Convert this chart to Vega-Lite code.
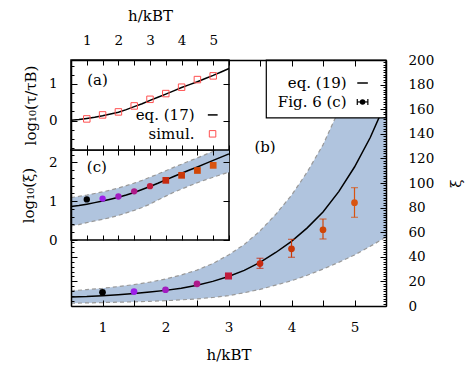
{
  "$schema": "https://vega.github.io/schema/vega-lite/v6.json",
  "width": 315,
  "height": 246,
  "autosize": {"type": "none"},
  "padding": {"left": 71, "top": 60, "right": 83, "bottom": 61},
  "config": {
    "view": {"stroke": null},
    "axis": {"labelFont": "DejaVu Serif", "labelFontSize": 13.5, "titleFont": "DejaVu Serif", "titleFontSize": 15, "titleFontWeight": "normal", "labelColor": "black", "titleColor": "black", "tickColor": "black", "domainColor": "black", "grid": false, "tickWidth": 1, "labelFlush": false, "labelOverlap": false},
    "text": {"font": "DejaVu Serif", "fontSize": 15, "color": "black"}
  },
  "datasets": {
    "curve": [
      {"h": 0.5, "xi": 7.3, "lo": 2.3, "hi": 12.4},
      {"h": 0.75, "xi": 7.7, "lo": 2.5, "hi": 13.3},
      {"h": 1.0, "xi": 8.4, "lo": 2.8, "hi": 14.4},
      {"h": 1.25, "xi": 9.2, "lo": 3.1, "hi": 15.8},
      {"h": 1.5, "xi": 10.1, "lo": 3.4, "hi": 17.4},
      {"h": 1.75, "xi": 11.3, "lo": 3.8, "hi": 19.4},
      {"h": 2.0, "xi": 12.7, "lo": 4.3, "hi": 21.9},
      {"h": 2.25, "xi": 14.5, "lo": 5.0, "hi": 25.2},
      {"h": 2.5, "xi": 16.8, "lo": 5.8, "hi": 29.2},
      {"h": 2.75, "xi": 20.0, "lo": 6.9, "hi": 34.5},
      {"h": 3.0, "xi": 24.0, "lo": 8.4, "hi": 41.5},
      {"h": 3.25, "xi": 29.0, "lo": 10.8, "hi": 50},
      {"h": 3.5, "xi": 35.5, "lo": 13.5, "hi": 61},
      {"h": 3.75, "xi": 43.5, "lo": 17, "hi": 74.5},
      {"h": 4.0, "xi": 52.5, "lo": 20.5, "hi": 90},
      {"h": 4.25, "xi": 63.5, "lo": 25, "hi": 109},
      {"h": 4.5, "xi": 76.5, "lo": 30, "hi": 131},
      {"h": 4.75, "xi": 93, "lo": 35.5, "hi": 159},
      {"h": 5.0, "xi": 113, "lo": 41.5, "hi": 193},
      {"h": 5.25, "xi": 137, "lo": 48.5, "hi": 235},
      {"h": 5.5, "xi": 166, "lo": 56, "hi": 285}
    ],
    "tau": [
      {"h": 0.5, "v": 0.01}, {"h": 0.75, "v": 0.03}, {"h": 1.0, "v": 0.06}, {"h": 1.25, "v": 0.09},
      {"h": 1.5, "v": 0.13}, {"h": 1.75, "v": 0.18}, {"h": 2.0, "v": 0.23}, {"h": 2.25, "v": 0.3},
      {"h": 2.5, "v": 0.38}, {"h": 2.75, "v": 0.46}, {"h": 3.0, "v": 0.55}, {"h": 3.25, "v": 0.635},
      {"h": 3.5, "v": 0.72}, {"h": 3.75, "v": 0.81}, {"h": 4.0, "v": 0.9}, {"h": 4.25, "v": 0.98},
      {"h": 4.5, "v": 1.06}, {"h": 4.75, "v": 1.145}, {"h": 5.0, "v": 1.23}, {"h": 5.25, "v": 1.325},
      {"h": 5.5, "v": 1.42}
    ],
    "simul": [
      {"h": 1, "v": 0.046}, {"h": 1.5, "v": 0.155}, {"h": 2, "v": 0.237}, {"h": 2.5, "v": 0.4},
      {"h": 3, "v": 0.58}, {"h": 3.5, "v": 0.736}, {"h": 4, "v": 0.91}, {"h": 4.5, "v": 1.117},
      {"h": 5, "v": 1.218}
    ],
    "pts": [
      {"h": 1, "xi": 11.1},
      {"h": 1.5, "xi": 11.7},
      {"h": 2, "xi": 13.2},
      {"h": 2.5, "xi": 18.0},
      {"h": 3, "xi": 24.4},
      {"h": 3.5, "xi": 34.5, "lo": 30.6, "hi": 38.8},
      {"h": 4, "xi": 46.5, "lo": 39.6, "hi": 54.2},
      {"h": 4.5, "xi": 62, "lo": 54.5, "hi": 70.7},
      {"h": 5, "xi": 84, "lo": 72.1, "hi": 96.2}
    ]
  },
  "resolve": {"scale": {"x": "independent", "y": "independent"}},
  "layer": [
    {
      "data": {"name": "curve"},
      "mark": {"type": "area", "color": "#b0c4de", "opacity": 1, "clip": true},
      "encoding": {
        "x": {"field": "h", "type": "quantitative", "scale": {"domain": [0.5, 5.5], "nice": false, "zero": false},
          "axis": {"orient": "bottom", "values": [0.5, 1, 1.5, 2, 2.5, 3, 3.5, 4, 4.5, 5, 5.5], "labelExpr": "datum.value % 1 == 0 ? format(datum.value, 'd') : ''", "tickSize": -6, "labelPadding": 20, "title": "h/kBT", "titlePadding": 14, "domainWidth": 1.5, "zindex": 1}},
        "y": {"field": "lo", "type": "quantitative", "scale": {"domain": [0, 200], "nice": false, "zero": false},
          "axis": {"orient": "right", "values": [0, 20, 40, 60, 80, 100, 120, 140, 160, 180, 200], "tickSize": -6, "labelPadding": 28, "title": "ξ", "titleAngle": 270, "titlePadding": 30, "domainWidth": 1.5, "zindex": 1}},
        "y2": {"field": "hi"}
      }
    },
    {
      "data": {"name": "curve"},
      "mark": {"type": "line", "color": "#999999", "strokeDash": [4, 3], "strokeWidth": 1.2, "clip": true},
      "encoding": {
        "x": {"field": "h", "type": "quantitative", "scale": {"domain": [0.5, 5.5], "nice": false, "zero": false},
          "axis": {"orient": "top", "values": [3.5, 4, 4.5, 5, 5.5], "labels": false, "tickSize": -6, "title": null, "domainWidth": 1.5, "zindex": 1}},
        "y": {"field": "hi", "type": "quantitative", "scale": {"domain": [0, 200], "nice": false, "zero": false},
          "axis": {"orient": "left", "values": [4, 8, 12, 16, 24, 28, 32, 36, 44, 48, 52], "labels": false, "tickSize": -3, "title": null, "domainWidth": 1.5, "zindex": 1}}
      }
    },
    {
      "data": {"name": "curve"},
      "mark": {"type": "line", "color": "#999999", "strokeDash": [4, 3], "strokeWidth": 1.2, "clip": true},
      "encoding": {
        "x": {"field": "h", "type": "quantitative", "scale": {"domain": [0.5, 5.5], "nice": false, "zero": false}, "axis": null},
        "y": {"field": "lo", "type": "quantitative", "scale": {"domain": [0, 200], "nice": false, "zero": false},
          "axis": {"orient": "left", "values": [0, 20, 40], "labels": false, "tickSize": -6, "domain": false, "title": null, "zindex": 1}}
      }
    },
    {
      "data": {"name": "curve"},
      "mark": {"type": "line", "color": "black", "strokeWidth": 1.5, "clip": true},
      "encoding": {
        "x": {"field": "h", "type": "quantitative", "scale": {"domain": [0.5, 5.5], "nice": false, "zero": false}, "axis": null},
        "y": {"field": "xi", "type": "quantitative", "scale": {"domain": [0, 200], "nice": false, "zero": false},
          "axis": {"orient": "right", "values": [2,4,6,8,10,12,14,16,18,22,24,26,28,30,32,34,36,38,42,44,46,48,50,52,54,56,58,62,64,66,68,70,72,74,76,78,82,84,86,88,90,92,94,96,98,102,104,106,108,110,112,114,116,118,122,124,126,128,130,132,134,136,138,142,144,146,148,150,152,154,156,158,162,164,166,168,170,172,174,176,178,182,184,186,188,190,192,194,196,198], "labels": false, "tickSize": -3, "domain": false, "title": null, "zindex": 1}}
      }
    },
    {
      "data": {"name": "pts"},
      "transform": [{"filter": "datum.h >= 3.5"}],
      "mark": {"type": "errorbar", "ticks": {"size": 7}, "thickness": 1.2},
      "encoding": {
        "x": {"field": "h", "type": "quantitative", "scale": {"domain": [0.5, 5.5], "nice": false, "zero": false}, "axis": null},
        "y": {"field": "lo", "type": "quantitative", "scale": {"domain": [0, 200], "nice": false, "zero": false}, "axis": null},
        "y2": {"field": "hi"},
        "color": {"field": "h", "type": "ordinal", "legend": null, "scale": {"domain": [1, 1.5, 2, 2.5, 3, 3.5, 4, 4.5, 5], "range": ["#000000", "#9c1ee8", "#a21cc0", "#ae1a8a", "#c01c3c", "#c62a10", "#ca3808", "#d04606", "#d85410"]}}
      }
    },
    {
      "data": {"name": "pts"},
      "transform": [{"filter": "datum.h != 3"}],
      "mark": {"type": "point", "shape": "circle", "filled": true, "size": 45, "opacity": 1},
      "encoding": {
        "x": {"field": "h", "type": "quantitative", "scale": {"domain": [0.5, 5.5], "nice": false, "zero": false}, "axis": null},
        "y": {"field": "xi", "type": "quantitative", "scale": {"domain": [0, 200], "nice": false, "zero": false}, "axis": null},
        "color": {"field": "h", "type": "ordinal", "legend": null}
      }
    },
    {
      "data": {"name": "pts"},
      "transform": [{"filter": "datum.h == 3"}],
      "mark": {"type": "point", "shape": "square", "filled": true, "size": 50, "opacity": 1},
      "encoding": {
        "x": {"field": "h", "type": "quantitative", "scale": {"domain": [0.5, 5.5], "nice": false, "zero": false}, "axis": null},
        "y": {"field": "xi", "type": "quantitative", "scale": {"domain": [0, 200], "nice": false, "zero": false}, "axis": null},
        "color": {"field": "h", "type": "ordinal", "legend": null}
      }
    },
    {
      "data": {"values": [{}]},
      "mark": {"type": "rect", "fill": "white", "stroke": "black", "strokeWidth": 1.2},
      "encoding": {
        "x": {"datum": 3.6, "type": "quantitative", "scale": {"domain": [0.5, 5.5], "nice": false, "zero": false}, "axis": null},
        "x2": {"datum": 5.5},
        "y": {"datum": 153, "type": "quantitative", "scale": {"domain": [0, 200], "nice": false, "zero": false}, "axis": null},
        "y2": {"datum": 200}
      }
    },
    {
      "data": {"values": [{}]},
      "mark": {"type": "text", "text": "eq. (19)", "align": "right", "baseline": "middle"},
      "encoding": {
        "x": {"datum": 4.875, "type": "quantitative", "scale": {"domain": [0.5, 5.5], "nice": false, "zero": false}, "axis": null},
        "y": {"datum": 181.3, "type": "quantitative", "scale": {"domain": [0, 200], "nice": false, "zero": false}, "axis": null}
      }
    },
    {
      "data": {"values": [{}]},
      "mark": {"type": "text", "text": "Fig. 6 (c)", "align": "right", "baseline": "middle"},
      "encoding": {
        "x": {"datum": 4.875, "type": "quantitative", "scale": {"domain": [0.5, 5.5], "nice": false, "zero": false}, "axis": null},
        "y": {"datum": 165.9, "type": "quantitative", "scale": {"domain": [0, 200], "nice": false, "zero": false}, "axis": null}
      }
    },
    {
      "data": {"values": [{}]},
      "mark": {"type": "rule", "color": "black", "strokeWidth": 1.5},
      "encoding": {
        "x": {"datum": 5.044, "type": "quantitative", "scale": {"domain": [0.5, 5.5], "nice": false, "zero": false}, "axis": null},
        "x2": {"datum": 5.212},
        "y": {"datum": 181.3, "type": "quantitative", "scale": {"domain": [0, 200], "nice": false, "zero": false}, "axis": null}
      }
    },
    {
      "data": {"values": [{}]},
      "mark": {"type": "rule", "color": "black", "strokeWidth": 1.2},
      "encoding": {
        "x": {"datum": 5.044, "type": "quantitative", "scale": {"domain": [0.5, 5.5], "nice": false, "zero": false}, "axis": null},
        "x2": {"datum": 5.212},
        "y": {"datum": 165.9, "type": "quantitative", "scale": {"domain": [0, 200], "nice": false, "zero": false}, "axis": null}
      }
    },
    {
      "data": {"values": [{}]},
      "mark": {"type": "rule", "color": "black", "strokeWidth": 1.2},
      "encoding": {
        "x": {"datum": 5.044, "type": "quantitative", "scale": {"domain": [0.5, 5.5], "nice": false, "zero": false}, "axis": null},
        "y": {"datum": 163.5, "type": "quantitative", "scale": {"domain": [0, 200], "nice": false, "zero": false}, "axis": null},
        "y2": {"datum": 168.3}
      }
    },
    {
      "data": {"values": [{}]},
      "mark": {"type": "rule", "color": "black", "strokeWidth": 1.2},
      "encoding": {
        "x": {"datum": 5.212, "type": "quantitative", "scale": {"domain": [0.5, 5.5], "nice": false, "zero": false}, "axis": null},
        "y": {"datum": 163.5, "type": "quantitative", "scale": {"domain": [0, 200], "nice": false, "zero": false}, "axis": null},
        "y2": {"datum": 168.3}
      }
    },
    {
      "data": {"values": [{}]},
      "mark": {"type": "point", "shape": "circle", "filled": true, "size": 30, "color": "black", "opacity": 1},
      "encoding": {
        "x": {"datum": 5.128, "type": "quantitative", "scale": {"domain": [0.5, 5.5], "nice": false, "zero": false}, "axis": null},
        "y": {"datum": 165.9, "type": "quantitative", "scale": {"domain": [0, 200], "nice": false, "zero": false}, "axis": null}
      }
    },
    {
      "data": {"values": [{}]},
      "mark": {"type": "text", "text": "(b)", "align": "center", "baseline": "middle"},
      "encoding": {
        "x": {"datum": 3.58, "type": "quantitative", "scale": {"domain": [0.5, 5.5], "nice": false, "zero": false}, "axis": null},
        "y": {"datum": 129.5, "type": "quantitative", "scale": {"domain": [0, 200], "nice": false, "zero": false}, "axis": null}
      }
    },
    {
      "data": {"values": [{}]},
      "mark": {"type": "rect", "fill": "white", "stroke": "black", "strokeWidth": 1.5},
      "encoding": {
        "x": {"datum": 0.5, "type": "quantitative", "scale": {"domain": [0.5, 5.5], "nice": false, "zero": false, "range": [0, 158]},
          "axis": {"orient": "bottom", "offset": -66, "values": [0.5, 1, 1.5, 2, 2.5, 3, 3.5, 4, 4.5, 5, 5.5], "labels": false, "tickSize": -5, "domain": false, "title": null, "zindex": 1}},
        "x2": {"datum": 5.5},
        "y": {"datum": 1, "type": "quantitative", "scale": {"type": "log", "domain": [1, 209], "nice": false, "range": [180, 90]},
          "axis": {"orient": "left", "values": [1, 10, 100], "labelExpr": "datum.value == 1 ? '0' : datum.value == 10 ? '1' : '2'", "tickSize": -6, "labelPadding": 20, "domain": false, "title": "log₁₀(ξ)", "titlePadding": 12, "zindex": 1}},
        "y2": {"datum": 209}
      }
    },
    {
      "data": {"name": "curve"},
      "mark": {"type": "area", "color": "#b0c4de", "opacity": 1},
      "encoding": {
        "x": {"field": "h", "type": "quantitative", "scale": {"domain": [0.5, 5.5], "nice": false, "zero": false, "range": [0, 158]},
          "axis": {"orient": "top", "offset": -90, "values": [0.5, 1, 1.5, 2, 2.5, 3, 3.5, 4, 4.5, 5, 5.5], "labels": false, "tickSize": -5, "domain": false, "title": null, "zindex": 1}},
        "y": {"field": "lo", "type": "quantitative", "scale": {"type": "log", "domain": [1, 209], "nice": false, "range": [180, 90]},
          "axis": {"orient": "right", "offset": -157, "values": [1, 10, 100], "labels": false, "tickSize": -6, "domain": false, "title": null, "zindex": 1}},
        "y2": {"field": "hi"}
      }
    },
    {
      "data": {"name": "curve"},
      "mark": {"type": "line", "color": "#999999", "strokeDash": [4, 3], "strokeWidth": 1.2},
      "encoding": {
        "x": {"field": "h", "type": "quantitative", "scale": {"domain": [0.5, 5.5], "nice": false, "zero": false, "range": [0, 158]}, "axis": null},
        "y": {"field": "hi", "type": "quantitative", "scale": {"type": "log", "domain": [1, 209], "nice": false, "range": [180, 90]},
          "axis": {"orient": "left", "values": [1.585, 2.512, 3.981, 6.31, 15.85, 25.12, 39.81, 63.1, 158.5], "labels": false, "tickSize": -3, "domain": false, "title": null, "zindex": 1}}
      }
    },
    {
      "data": {"name": "curve"},
      "mark": {"type": "line", "color": "#999999", "strokeDash": [4, 3], "strokeWidth": 1.2},
      "encoding": {
        "x": {"field": "h", "type": "quantitative", "scale": {"domain": [0.5, 5.5], "nice": false, "zero": false, "range": [0, 158]}, "axis": null},
        "y": {"field": "lo", "type": "quantitative", "scale": {"type": "log", "domain": [1, 209], "nice": false, "range": [180, 90]}, "axis": null}
      }
    },
    {
      "data": {"name": "curve"},
      "mark": {"type": "line", "color": "black", "strokeWidth": 1.5},
      "encoding": {
        "x": {"field": "h", "type": "quantitative", "scale": {"domain": [0.5, 5.5], "nice": false, "zero": false, "range": [0, 158]}, "axis": null},
        "y": {"field": "xi", "type": "quantitative", "scale": {"type": "log", "domain": [1, 209], "nice": false, "range": [180, 90]}, "axis": null}
      }
    },
    {
      "data": {"name": "pts"},
      "transform": [{"filter": "datum.h <= 3"}],
      "mark": {"type": "point", "shape": "circle", "filled": true, "size": 40, "opacity": 1},
      "encoding": {
        "x": {"field": "h", "type": "quantitative", "scale": {"domain": [0.5, 5.5], "nice": false, "zero": false, "range": [0, 158]}, "axis": null},
        "y": {"field": "xi", "type": "quantitative", "scale": {"type": "log", "domain": [1, 209], "nice": false, "range": [180, 90]}, "axis": null},
        "color": {"field": "h", "type": "ordinal", "legend": null}
      }
    },
    {
      "data": {"name": "pts"},
      "transform": [{"filter": "datum.h >= 3.5"}],
      "mark": {"type": "point", "shape": "square", "filled": true, "size": 45, "opacity": 1},
      "encoding": {
        "x": {"field": "h", "type": "quantitative", "scale": {"domain": [0.5, 5.5], "nice": false, "zero": false, "range": [0, 158]}, "axis": null},
        "y": {"field": "xi", "type": "quantitative", "scale": {"type": "log", "domain": [1, 209], "nice": false, "range": [180, 90]}, "axis": null},
        "color": {"field": "h", "type": "ordinal", "legend": null}
      }
    },
    {
      "data": {"values": [{}]},
      "mark": {"type": "text", "text": "(c)", "align": "center", "baseline": "middle"},
      "encoding": {
        "x": {"datum": 1.32, "type": "quantitative", "scale": {"domain": [0.5, 5.5], "nice": false, "zero": false, "range": [0, 158]}, "axis": null},
        "y": {"datum": 76.9, "type": "quantitative", "scale": {"type": "log", "domain": [1, 209], "nice": false, "range": [180, 90]}, "axis": null}
      }
    },
    {
      "data": {"values": [{}]},
      "mark": {"type": "rect", "fill": "white", "stroke": "black", "strokeWidth": 1.5},
      "encoding": {
        "x": {"datum": 0.5, "type": "quantitative", "scale": {"domain": [0.5, 5.5], "nice": false, "zero": false, "range": [0, 158]},
          "axis": {"orient": "top", "values": [0.5, 1, 1.5, 2, 2.5, 3, 3.5, 4, 4.5, 5, 5.5], "labelExpr": "datum.value % 1 == 0 ? format(datum.value, 'd') : ''", "tickSize": -5, "labelPadding": 18, "domain": false, "title": "h/kBT", "titlePadding": 10, "zindex": 1}},
        "x2": {"datum": 5.5},
        "y": {"datum": -0.8, "type": "quantitative", "scale": {"domain": [-0.8, 1.65], "nice": false, "zero": false, "range": [90, 0]},
          "axis": {"orient": "left", "values": [0, 1], "tickSize": -6, "labelPadding": 20, "domain": false, "title": "log₁₀(τ/τB)", "titlePadding": 10, "zindex": 1}},
        "y2": {"datum": 1.65}
      }
    },
    {
      "data": {"name": "tau"},
      "mark": {"type": "line", "color": "black", "strokeWidth": 1.5},
      "encoding": {
        "x": {"field": "h", "type": "quantitative", "scale": {"domain": [0.5, 5.5], "nice": false, "zero": false, "range": [0, 158]},
          "axis": {"orient": "bottom", "offset": -156, "values": [0.5, 1, 1.5, 2, 2.5, 3, 3.5, 4, 4.5, 5, 5.5], "labels": false, "tickSize": -5, "domain": false, "title": null, "zindex": 1}},
        "y": {"field": "v", "type": "quantitative", "scale": {"domain": [-0.8, 1.65], "nice": false, "zero": false, "range": [90, 0]},
          "axis": {"orient": "right", "offset": -157, "values": [0, 1], "labels": false, "tickSize": -6, "domain": false, "title": null, "zindex": 1}}
      }
    },
    {
      "data": {"name": "simul"},
      "mark": {"type": "point", "shape": "square", "filled": false, "size": 42, "color": "#ff5050", "strokeWidth": 1, "opacity": 1},
      "encoding": {
        "x": {"field": "h", "type": "quantitative", "scale": {"domain": [0.5, 5.5], "nice": false, "zero": false, "range": [0, 158]}, "axis": null},
        "y": {"field": "v", "type": "quantitative", "scale": {"domain": [-0.8, 1.65], "nice": false, "zero": false, "range": [90, 0]},
          "axis": {"orient": "left", "values": [-0.75, -0.5, -0.25, 0.25, 0.5, 0.75, 1.25, 1.5], "labels": false, "tickSize": -3, "domain": false, "title": null, "zindex": 1}}
      }
    },
    {
      "data": {"values": [{}]},
      "mark": {"type": "text", "text": "(a)", "align": "center", "baseline": "middle"},
      "encoding": {
        "x": {"datum": 1.34, "type": "quantitative", "scale": {"domain": [0.5, 5.5], "nice": false, "zero": false, "range": [0, 158]}, "axis": null},
        "y": {"datum": 1.11, "type": "quantitative", "scale": {"domain": [-0.8, 1.65], "nice": false, "zero": false, "range": [90, 0]}, "axis": null}
      }
    },
    {
      "data": {"values": [{}]},
      "mark": {"type": "text", "text": "eq. (17)", "align": "right", "baseline": "middle"},
      "encoding": {
        "x": {"datum": 4.41, "type": "quantitative", "scale": {"domain": [0.5, 5.5], "nice": false, "zero": false, "range": [0, 158]}, "axis": null},
        "y": {"datum": 0.155, "type": "quantitative", "scale": {"domain": [-0.8, 1.65], "nice": false, "zero": false, "range": [90, 0]}, "axis": null}
      }
    },
    {
      "data": {"values": [{}]},
      "mark": {"type": "text", "text": "simul.", "align": "right", "baseline": "middle"},
      "encoding": {
        "x": {"datum": 4.41, "type": "quantitative", "scale": {"domain": [0.5, 5.5], "nice": false, "zero": false, "range": [0, 158]}, "axis": null},
        "y": {"datum": -0.36, "type": "quantitative", "scale": {"domain": [-0.8, 1.65], "nice": false, "zero": false, "range": [90, 0]}, "axis": null}
      }
    },
    {
      "data": {"values": [{}]},
      "mark": {"type": "rule", "color": "black", "strokeWidth": 1.5},
      "encoding": {
        "x": {"datum": 4.83, "type": "quantitative", "scale": {"domain": [0.5, 5.5], "nice": false, "zero": false, "range": [0, 158]}, "axis": null},
        "x2": {"datum": 5.14},
        "y": {"datum": 0.155, "type": "quantitative", "scale": {"domain": [-0.8, 1.65], "nice": false, "zero": false, "range": [90, 0]}, "axis": null}
      }
    },
    {
      "data": {"values": [{}]},
      "mark": {"type": "point", "shape": "square", "filled": false, "size": 42, "color": "#ff5050", "strokeWidth": 1, "opacity": 1},
      "encoding": {
        "x": {"datum": 4.98, "type": "quantitative", "scale": {"domain": [0.5, 5.5], "nice": false, "zero": false, "range": [0, 158]}, "axis": null},
        "y": {"datum": -0.36, "type": "quantitative", "scale": {"domain": [-0.8, 1.65], "nice": false, "zero": false, "range": [90, 0]}, "axis": null}
      }
    }
  ]
}
